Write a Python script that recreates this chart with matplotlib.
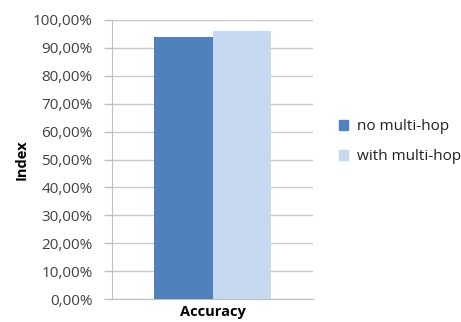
import matplotlib.pyplot as plt
from matplotlib.ticker import FuncFormatter, MultipleLocator
from matplotlib.patches import Patch

categories = ["Accuracy"]
no_multihop = [94.0]
with_multihop = [96.2]
series_names = ["no multi-hop", "with multi-hop"]
colors = ["#4F81BD", "#C6D9F1"]

plt.rcParams["font.family"] = ["Open Sans", "DejaVu Sans"]

fig = plt.figure(figsize=(4.61, 3.22), dpi=100)
ax = fig.add_axes([0.243, 0.071, 0.436, 0.867])

w = 0.289
x = range(len(categories))
ax.bar([i - w / 2 for i in x], no_multihop, width=w, color=colors[0], zorder=3)
ax.bar([i + w / 2 for i in x], with_multihop, width=w, color=colors[1], zorder=3)

ax.set_xlim(-0.5, 0.5)
ax.set_ylim(0, 100)
ax.yaxis.set_major_locator(MultipleLocator(10))
ax.yaxis.set_major_formatter(FuncFormatter(lambda v, p: f"{v:.2f}%".replace(".", ",")))
ax.set_xticks(list(x))
ax.set_xticklabels(categories, fontweight="bold", fontsize=10.5)
ax.tick_params(axis="x", length=0, pad=4, colors="black")
ax.tick_params(axis="y", length=6, width=1, color="#BFBFBF", labelsize=11,
               labelcolor="#404040", pad=8)

ax.grid(axis="y", color="#C8C8C8", linewidth=1, zorder=0)
for s in ["top", "right"]:
    ax.spines[s].set_visible(False)
ax.spines["left"].set_color("#BFBFBF")
ax.spines["bottom"].set_color("#BFBFBF")

ax.set_ylabel("Index", fontweight="bold", fontsize=10.5, labelpad=3)

handles = [Patch(color=c) for c in colors]
fig.legend(handles, series_names, loc="center left", bbox_to_anchor=(0.705, 0.56),
           frameon=False, fontsize=11, handlelength=0.6, handleheight=0.6,
           labelspacing=1.0, handletextpad=0.6, labelcolor="#202020")

fig.savefig("out.png", dpi=100)
